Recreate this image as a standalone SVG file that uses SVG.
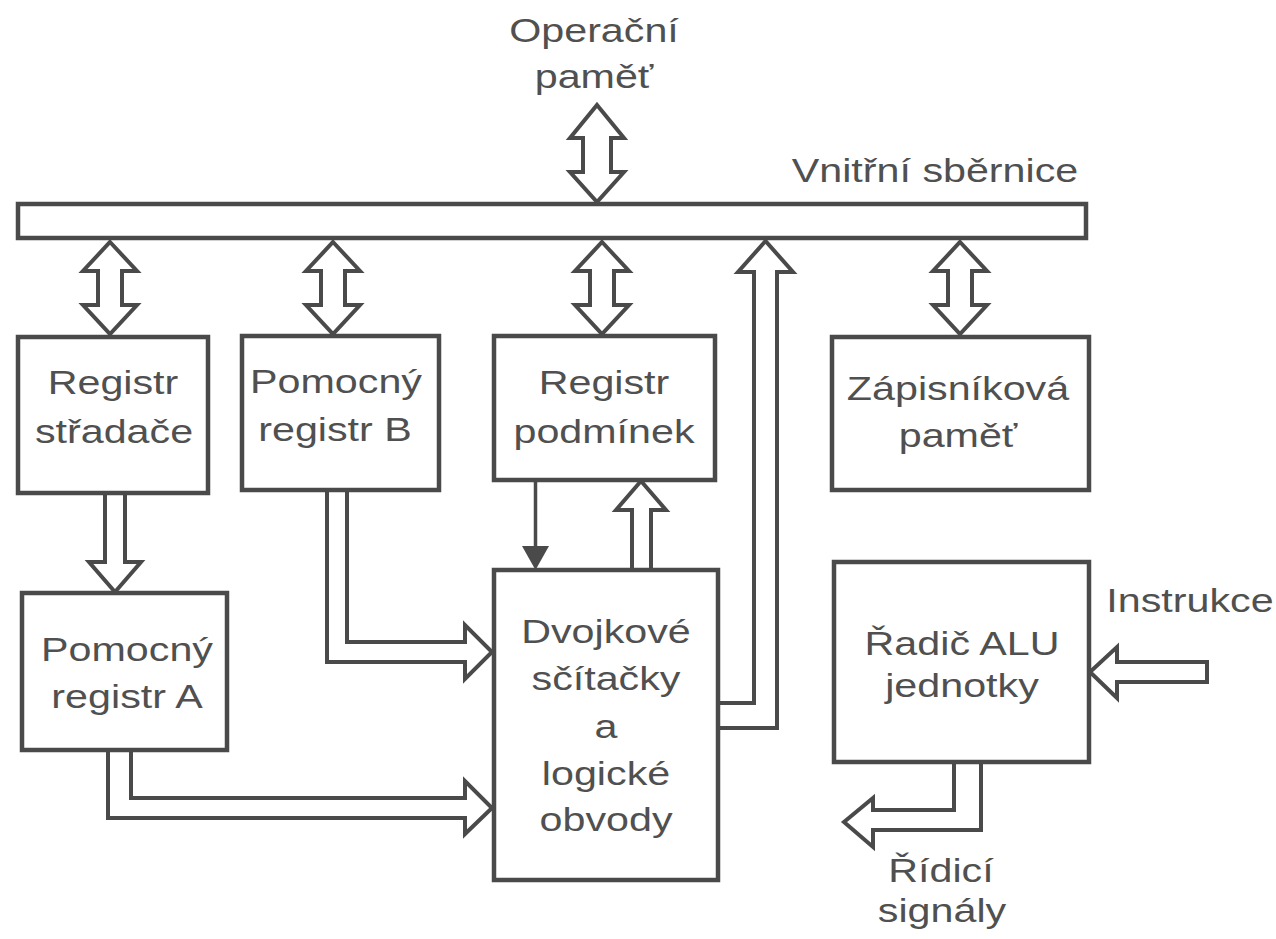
<svg xmlns="http://www.w3.org/2000/svg" width="1276" height="939" viewBox="0 0 1276 939">
<style>
.box{fill:#ffffff;stroke:#4a4a4a;stroke-width:4.5}
.arr{fill:#ffffff;stroke:#4a4a4a;stroke-width:4;stroke-linejoin:miter}
.thin{fill:none;stroke:#4a4a4a;stroke-width:3.5}
.head{fill:#4a4a4a;stroke:none}
text{font-family:"Liberation Sans",Arial,sans-serif;font-size:33px;fill:#505050;text-anchor:middle}
</style>
<rect width="1276" height="939" fill="#ffffff"/>
<g id="labels">
<text transform="translate(594 42) scale(1.25 1)">Operační</text>
<text transform="translate(594 88) scale(1.25 1)">paměť</text>
<text transform="translate(935 182) scale(1.25 1)">Vnitřní sběrnice</text>
<text transform="translate(1190 612) scale(1.25 1)">Instrukce</text>
<text transform="translate(941 882) scale(1.25 1)">Řídicí</text>
<text transform="translate(942 922) scale(1.25 1)">signály</text>
</g>
<g id="bus"><rect class="box" x="18" y="204" width="1068" height="34"/></g>
<g id="connectors">
<path class="arr" d="M597,105 L624,138 L611,138 L611,172 L624,172 L597,202 L570,172 L583,172 L583,138 L570,138 Z"/>
<path class="arr" d="M110,242 L137,271 L122,271 L122,305 L137,305 L110,334 L83,305 L98,305 L98,271 L83,271 Z"/>
<path class="arr" d="M333,242 L360,271 L345,271 L345,305 L360,305 L333,334 L306,305 L321,305 L321,271 L306,271 Z"/>
<path class="arr" d="M602,242 L629,271 L614,271 L614,305 L629,305 L602,334 L575,305 L590,305 L590,271 L575,271 Z"/>
<path class="arr" d="M960,242 L987,271 L972,271 L972,305 L987,305 L960,334 L933,305 L948,305 L948,271 L933,271 Z"/>
<path class="arr" d="M718,703 L754,703 L754,272 L738,272 L765.5,241 L793,272 L777,272 L777,728 L718,728"/>
<path class="arr" d="M105,493 L105,562 L89,562 L115,592 L141,562 L125,562 L125,493"/>
<path class="arr" d="M327,490 L327,662 L465,662 L465,679 L492,652 L465,625 L465,642 L347,642 L347,490"/>
<path class="arr" d="M108,750 L108,818 L465,818 L465,834 L492,808 L465,781 L465,798 L131,798 L131,750"/>
<line class="thin" x1="535.5" y1="480" x2="535.5" y2="550"/>
<path class="head" d="M522,546 L549,546 L535.5,570 Z"/>
<path class="arr" d="M632,570 L632,510 L616,510 L641,481 L666,510 L651,510 L651,570"/>
<path class="arr" d="M1207,662 L1117,662 L1117,647 L1090,672 L1117,698 L1117,682 L1207,682 Z"/>
<path class="arr" d="M954,762 L954,810 L873,810 L873,798 L844,822 L873,847 L873,830 L981,830 L981,762"/>
</g>
<g id="registr-stradace">
<rect class="box" x="18" y="337" width="190" height="156"/>
<text transform="translate(113 394) scale(1.25 1)">Registr</text>
<text transform="translate(114 443) scale(1.25 1)">střadače</text>
</g>
<g id="pomocny-registr-b">
<rect class="box" x="242" y="336" width="197" height="154"/>
<text transform="translate(336 393) scale(1.25 1)">Pomocný</text>
<text transform="translate(335 441) scale(1.25 1)">registr B</text>
</g>
<g id="registr-podminek">
<rect class="box" x="494" y="336" width="221" height="144"/>
<text transform="translate(604 394) scale(1.25 1)">Registr</text>
<text transform="translate(604 443) scale(1.25 1)">podmínek</text>
</g>
<g id="zapisnikova-pamet">
<rect class="box" x="832" y="337" width="257" height="153"/>
<text transform="translate(958 400) scale(1.25 1)">Zápisníková</text>
<text transform="translate(958 447) scale(1.25 1)">paměť</text>
</g>
<g id="pomocny-registr-a">
<rect class="box" x="22" y="593" width="205" height="157"/>
<text transform="translate(127 661) scale(1.25 1)">Pomocný</text>
<text transform="translate(127 708) scale(1.25 1)">registr A</text>
</g>
<g id="dvojkove-scitacky">
<rect class="box" x="494" y="570" width="224" height="310"/>
<text transform="translate(606 643) scale(1.25 1)">Dvojkové</text>
<text transform="translate(606 690) scale(1.25 1)">sčítačky</text>
<text transform="translate(606 738) scale(1.25 1)">a</text>
<text transform="translate(606 785) scale(1.25 1)">logické</text>
<text transform="translate(606 831) scale(1.25 1)">obvody</text>
</g>
<g id="radic-alu">
<rect class="box" x="834" y="562" width="255" height="200"/>
<text transform="translate(962 655) scale(1.25 1)">Řadič ALU</text>
<text transform="translate(962 697) scale(1.25 1)">jednotky</text>
</g>
</svg>
